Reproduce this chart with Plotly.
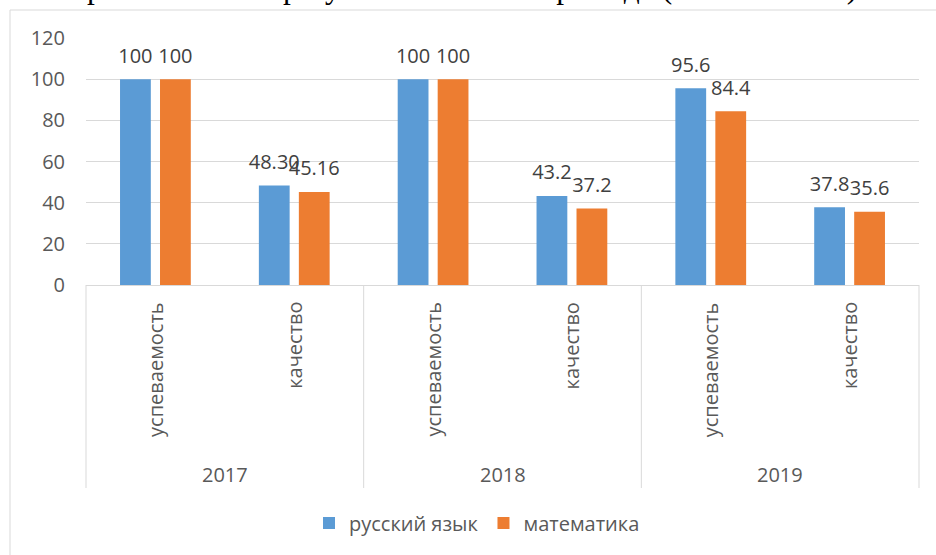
import plotly.graph_objects as go

# ---- data ----
years = ["2017", "2018", "2019"]
metrics = ["успеваемость", "качество"]
russian = [100, 48.30, 100, 43.2, 95.6, 37.8]
math = [100, 45.16, 100, 37.2, 84.4, 35.6]
russian_labels = ["100", "48.30", "100", "43.2", "95.6", "37.8"]
math_labels = ["100", "45.16", "100", "37.2", "84.4", "35.6"]
y_ticks = [0, 20, 40, 60, 80, 100, 120]
series_names = ["русский язык", "математика"]
title_text = "Диаграмма 3. Сравнительные результаты ОГЭ за три года (2017-2019 гг.)"

# ---- geometry / style ----
W, H = 936, 555
L, R, T, B = 86, 17, 38, 270
pw = W - L - R
ph = H - T - B
FONT = "Open Sans, Noto Sans, sans-serif"
GRAY = "#595959"
LINE = "#d9d9d9"
BLUE = "#5B9BD5"
ORANGE = "#ED7D31"

cats = [f"{y}|{m}" for y in years for m in metrics]


def px_x(p):
    return (p - L) / pw


def px_y(p):
    return (T + ph - p) / ph


fig = go.Figure()
for vals, name, col in [(russian, series_names[0], BLUE), (math, series_names[1], ORANGE)]:
    fig.add_trace(go.Bar(x=cats, y=vals, name=name, marker=dict(color=col, line_width=0),
                         hoverinfo="skip"))
for vals, labels, col in [(russian, russian_labels, BLUE), (math, math_labels, ORANGE)]:
    fig.add_trace(go.Scatter(x=cats, y=vals, mode="markers+text", text=labels,
                             textposition="top center", showlegend=False, hoverinfo="skip",
                             marker=dict(size=17, opacity=0, color=col),
                             textfont=dict(size=20, color="#404040", family=FONT),
                             cliponaxis=False))

annotations = []
for i, c in enumerate(cats):
    annotations.append(dict(x=c, xref="x", y=0, yref="paper", yanchor="top", yshift=-15,
                            xanchor="center", text=metrics[i % 2], textangle=-90,
                            showarrow=False, font=dict(size=20, color=GRAY, family=FONT)))
for j, yr in enumerate(years):
    annotations.append(dict(x=j * len(metrics) + (len(metrics) - 1) / 2, xref="x", y=0,
                            yref="paper", yanchor="middle", yshift=-189, xanchor="center",
                            text=yr, showarrow=False, font=dict(size=20, color=GRAY, family=FONT)))
annotations.append(dict(x=px_x(859), xref="paper", xanchor="right", y=1, yref="paper",
                        yanchor="middle", yshift=51, text=title_text, showarrow=False,
                        font=dict(size=31.5, color="#000000", family="Liberation Serif, serif")))

shapes = []
# outer chart border
shapes.append(dict(type="rect", xref="paper", yref="paper", x0=px_x(10), x1=px_x(W + 30),
                   y0=px_y(10), y1=px_y(H + 30), line=dict(color=LINE, width=1), layer="below"))
# category dividers
div_bottom = px_y(488)
for k in range(len(years) + 1):
    if k == 0 or k == len(years):
        shapes.append(dict(type="line", xref="paper", yref="paper", x0=0 if k == 0 else 1,
                           x1=0 if k == 0 else 1, y0=0, y1=div_bottom,
                           line=dict(color=LINE, width=1)))
    else:
        xv = k * len(metrics) - 0.5
        shapes.append(dict(type="line", xref="x", yref="paper", x0=xv, x1=xv, y0=0,
                           y1=div_bottom, line=dict(color=LINE, width=1)))

fig.update_layout(
    width=W, height=H,
    margin=dict(l=L, r=R, t=T, b=B, pad=0),
    paper_bgcolor="white", plot_bgcolor="white",
    barmode="group", bargap=0.424, bargroupgap=0.23,
    scattermode="group", scattergap=0.424,
    font=dict(family=FONT, size=20, color=GRAY),
    showlegend=True,
    legend=dict(orientation="h", x=px_x(477), xanchor="center", y=px_y(523), yanchor="middle",
                font=dict(size=20, color=GRAY, family=FONT), traceorder="normal"),
    annotations=annotations,
    shapes=shapes,
    xaxis=dict(type="category", categoryorder="array", categoryarray=cats,
               range=[-0.5, len(cats) - 0.5], showticklabels=False, showgrid=False,
               showline=True, linecolor=LINE, linewidth=1, ticks="", zeroline=False),
    yaxis=dict(range=[0, 120], tickvals=y_ticks, showgrid=True, gridcolor=LINE, gridwidth=1,
               zeroline=False, showline=False, ticks="", ticklabelstandoff=20,
               tickfont=dict(size=20, color=GRAY, family=FONT)),
)

fig.write_html("out.html", config={"displayModeBar": False},
               post_script="document.body.style.margin='0';document.body.style.overflow='hidden';")
